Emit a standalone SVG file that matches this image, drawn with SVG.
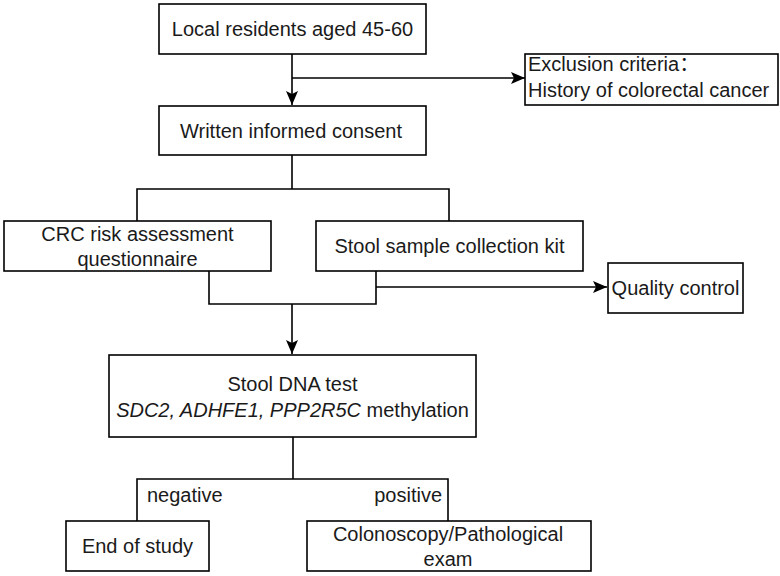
<svg xmlns="http://www.w3.org/2000/svg" width="780" height="576" viewBox="0 0 780 576">
<style>
.box{fill:#fff;stroke:#000;stroke-width:1.6}
.ln{fill:none;stroke:#000;stroke-width:1.6}
.t{font-family:"Liberation Sans",Arial,"Noto Sans CJK SC",sans-serif;font-size:20px;fill:#1a1a1a}
.c{text-anchor:middle}
.i{font-style:italic}
</style>
<defs>
<marker id="arr" markerUnits="userSpaceOnUse" markerWidth="16" markerHeight="14" viewBox="0 0 16 14" refX="15" refY="7" orient="auto">
<path d="M1,1 L15,7 L1,13 L4,7 z" fill="#000"/>
</marker>
</defs>
<rect width="780" height="576" fill="#fff"/>
<g id="connectors">
<path class="ln" d="M292,54 V105" marker-end="url(#arr)"/>
<path class="ln" d="M292,78 H525" marker-end="url(#arr)"/>
<path class="ln" d="M292,155 V189 M137,221 V189 H449 V221"/>
<path class="ln" d="M209,271 V304 H376 V271"/>
<path class="ln" d="M376,287 H607" marker-end="url(#arr)"/>
<path class="ln" d="M292,304 V354" marker-end="url(#arr)"/>
<path class="ln" d="M293,437 V479 M137,521 V479 H448 V521"/>
</g>
<g id="n-residents">
<rect class="box" x="159" y="4" width="267" height="50"/>
<text class="t c" x="292.5" y="36">Local residents aged 45-60</text>
</g>
<g id="n-exclusion">
<rect class="box" x="525" y="54" width="253" height="51"/>
<text class="t" x="528" y="71">Exclusion criteria：</text>
<text class="t" x="528" y="97">History of colorectal cancer</text>
</g>
<g id="n-consent">
<rect class="box" x="159" y="106" width="267" height="49"/>
<text class="t" x="180" y="138">Written informed consent</text>
</g>
<g id="n-crc">
<rect class="box" x="4" y="221" width="267" height="50"/>
<text class="t c" x="137.5" y="241">CRC risk assessment</text>
<text class="t c" x="137.5" y="266">questionnaire</text>
</g>
<g id="n-kit">
<rect class="box" x="316" y="221" width="267" height="50"/>
<text class="t c" x="449.5" y="253">Stool sample collection kit</text>
</g>
<g id="n-qc">
<rect class="box" x="608" y="263" width="135" height="50"/>
<text class="t c" x="675.5" y="295">Quality control</text>
</g>
<g id="n-dna">
<rect class="box" x="109" y="355" width="367" height="82"/>
<text class="t c" x="292.5" y="391">Stool DNA test</text>
<text class="t c" x="292.5" y="417"><tspan class="i">SDC2, ADHFE1, PPP2R5C</tspan> methylation</text>
</g>
<g id="labels">
<text class="t" x="147" y="502">negative</text>
<text class="t" x="442" y="502" text-anchor="end">positive</text>
</g>
<g id="n-end">
<rect class="box" x="66" y="521" width="143" height="50"/>
<text class="t c" x="137.5" y="553">End of study</text>
</g>
<g id="n-colon">
<rect class="box" x="307" y="521" width="284" height="50"/>
<text class="t c" x="448" y="541">Colonoscopy/Pathological</text>
<text class="t c" x="448" y="566">exam</text>
</g>
</svg>
